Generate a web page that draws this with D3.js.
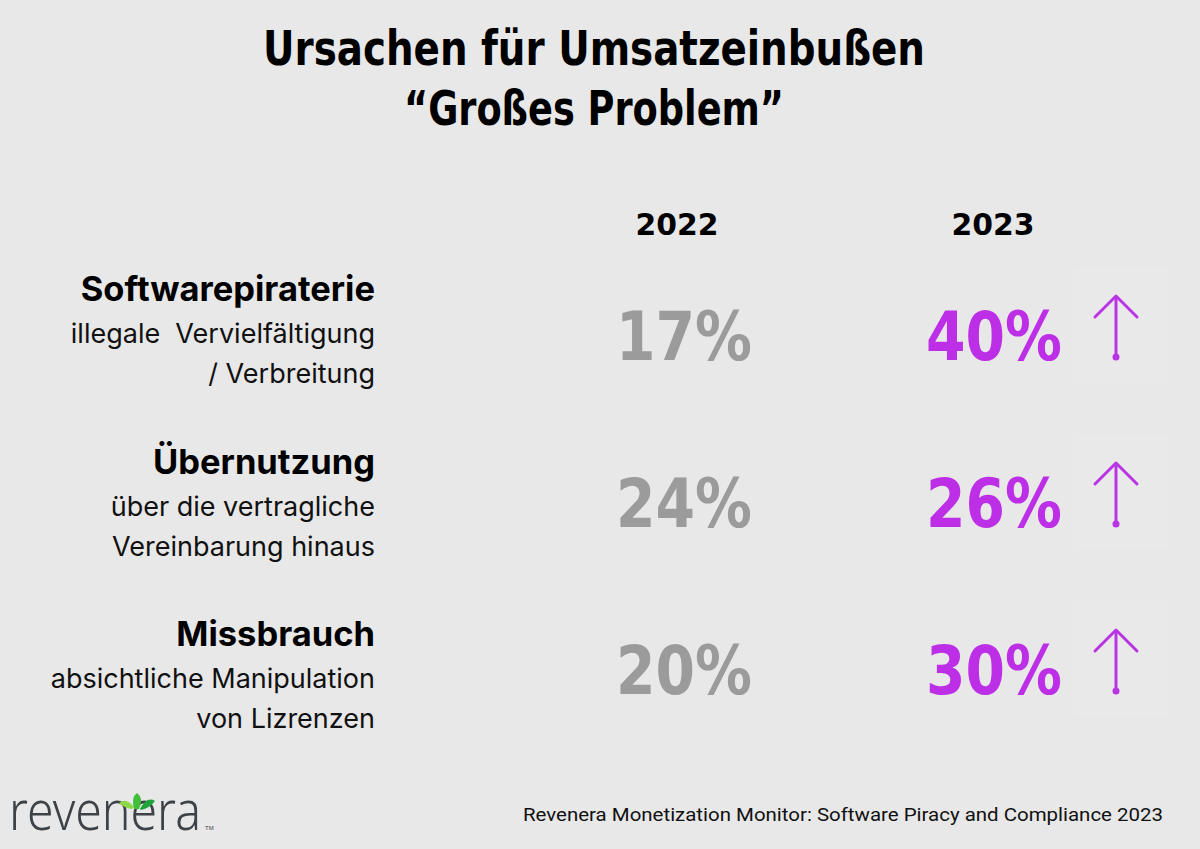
<!DOCTYPE html>
<html><head><meta charset="utf-8">
<script src="https://cdn.jsdelivr.net/npm/d3@7"></script>
<style>html,body{margin:0;padding:0;background:#e8e8e8;}svg{display:block;} text{white-space:pre;}</style>
</head><body>
<script>
const titleLines = ["Ursachen für Umsatzeinbußen", "“Großes Problem”"];
const years = ["2022", "2023"];
const categories = ["Softwarepiraterie", "Übernutzung", "Missbrauch"];
const subtitles = [["illegale  Vervielfältigung", "/ Verbreitung"], ["über die vertragliche", "Vereinbarung hinaus"], ["absichtliche Manipulation", "von Lizrenzen"]];
const values2022 = [17, 24, 20];
const values2023 = [40, 26, 30];
const source = "Revenera Monetization Monitor: Software Piracy and Compliance 2023";

const W = 1200, H = 849;
const svg = d3.select("body").append("svg").attr("width", W).attr("height", H);
svg.append("rect").attr("width", W).attr("height", H).attr("fill", "#e8e8e8");

// title
svg.selectAll("text.title").data(titleLines).enter().append("text")
  .attr("x", 594).attr("y", (d, i) => 65 + i * 60)
  .attr("text-anchor", "middle")
  .attr("font-family", "'Liberation Sans Narrow','DejaVu Sans Condensed',Roboto,sans-serif")
  .attr("font-stretch", "condensed")
  .attr("font-weight", 700).attr("font-size", 48).attr("fill", "#000")
  .attr("textLength", (d, i) => i === 0 ? 662 : 380).attr("lengthAdjust", "spacingAndGlyphs")
  .text(d => d);

const x = d3.scalePoint().domain(years).range([684, 994]);
const yVal = d3.scalePoint().domain(categories).range([336, 670]);
const yLab = d3.scalePoint().domain(categories).range([301, 646]);

// year headers
svg.selectAll("text.year").data(years).enter().append("text")
  .attr("x", (d, i) => i === 0 ? 677 : 993).attr("y", 235).attr("text-anchor", "middle")
  .attr("font-family", "'DejaVu Sans',sans-serif").attr("font-weight", 700)
  .attr("font-size", 31).attr("fill", "#000")
  .attr("textLength", 83).attr("lengthAdjust", "spacingAndGlyphs")
  .text(d => d);

// labels
const lab = svg.selectAll("g.lab").data(categories).enter().append("g")
  .attr("transform", d => `translate(375,${yLab(d)})`);
lab.append("text").attr("text-anchor", "end")
  .attr("font-family", "Inter,Roboto,sans-serif").attr("font-weight", 700)
  .attr("font-size", 34.5).attr("fill", "#000").text(d => d);
lab.each(function (d, i) {
  d3.select(this).selectAll("text.sub").data(subtitles[i]).enter().append("text")
    .attr("class", "sub").attr("text-anchor", "end")
    .attr("y", (s, j) => 42 + j * 40)
    .attr("font-family", "Inter,Roboto,sans-serif").attr("font-weight", 400)
    .attr("font-size", 27).attr("fill", "#111").text(s => s);
});

// values
const valFont = "'DejaVu Sans',sans-serif";
function drawVals(vals, year, color) {
  svg.selectAll(null).data(vals).enter().append("text")
    .attr("x", x(year)).attr("y", (d, i) => yVal(categories[i]) + 24)
    .attr("text-anchor", "middle").attr("font-family", valFont).attr("font-weight", 700)
    .attr("font-size", 67).attr("fill", color)
    .attr("textLength", 136).attr("lengthAdjust", "spacingAndGlyphs")
    .text(d => d + "%");
}
drawVals(values2022, "2022", "#9b9b9b");
drawVals(values2023, "2023", "#bd2fe6");

// arrow boxes and arrows
const purple = "#b935e3";
categories.forEach((c, i) => {
  const cy = yVal(c);
  const g = svg.append("g").attr("transform", `translate(1116,${cy})`);
  g.append("rect").attr("x", -43).attr("y", -68).attr("width", 95).attr("height", 114)
    .attr("fill", "#e9e9e9");
  g.append("line").attr("x1", 0).attr("x2", 0).attr("y1", -40).attr("y2", 21)
    .attr("stroke", purple).attr("stroke-width", 3);
  g.append("path").attr("d", "M-21,-19 L0,-40 L21,-19").attr("fill", "none")
    .attr("stroke", purple).attr("stroke-width", 3).attr("stroke-linecap", "round").attr("stroke-linejoin", "round");
  g.append("circle").attr("cx", 0).attr("cy", 21).attr("r", 3.5).attr("fill", purple);
});

// source
svg.append("text").attr("x", 1163).attr("y", 821).attr("text-anchor", "end")
  .attr("font-family", "Roboto,'Liberation Sans',sans-serif").attr("font-size", 19)
  .attr("fill", "#111").attr("textLength", 640).attr("lengthAdjust", "spacingAndGlyphs")
  .text(source);

// logo
const logo = svg.append("g");
const logoText = logo.append("text").attr("transform", "translate(9,830) scale(0.84,1)")
  .attr("font-family", "'Noto Sans','Open Sans',sans-serif").attr("font-weight", 300)
  .attr("font-size", 55).attr("fill", "#3d4248").text("revenera");
const bb = logoText.node().getBBox();
const sx = 192 / bb.width;
logoText.attr("transform", `translate(9,830) scale(${sx},1)`);
logo.append("text").attr("x", 205).attr("y", 830).attr("font-family", "sans-serif")
  .attr("font-size", 6).attr("fill", "#3d4248").text("TM");
logo.append("path").attr("d", "M134,807 Q126,797 119,803 Q124,808 132,809 Z").attr("fill", "#8ed94a");
logo.append("path").attr("d", "M134,809 Q131,797 137,793 Q144,798 139,809 Z").attr("fill", "#3fbf3a");
logo.append("path").attr("d", "M140,809 Q147,796 155,801 Q150,808 141,810 Z").attr("fill", "#1fa43a");
</script>
</body></html>
